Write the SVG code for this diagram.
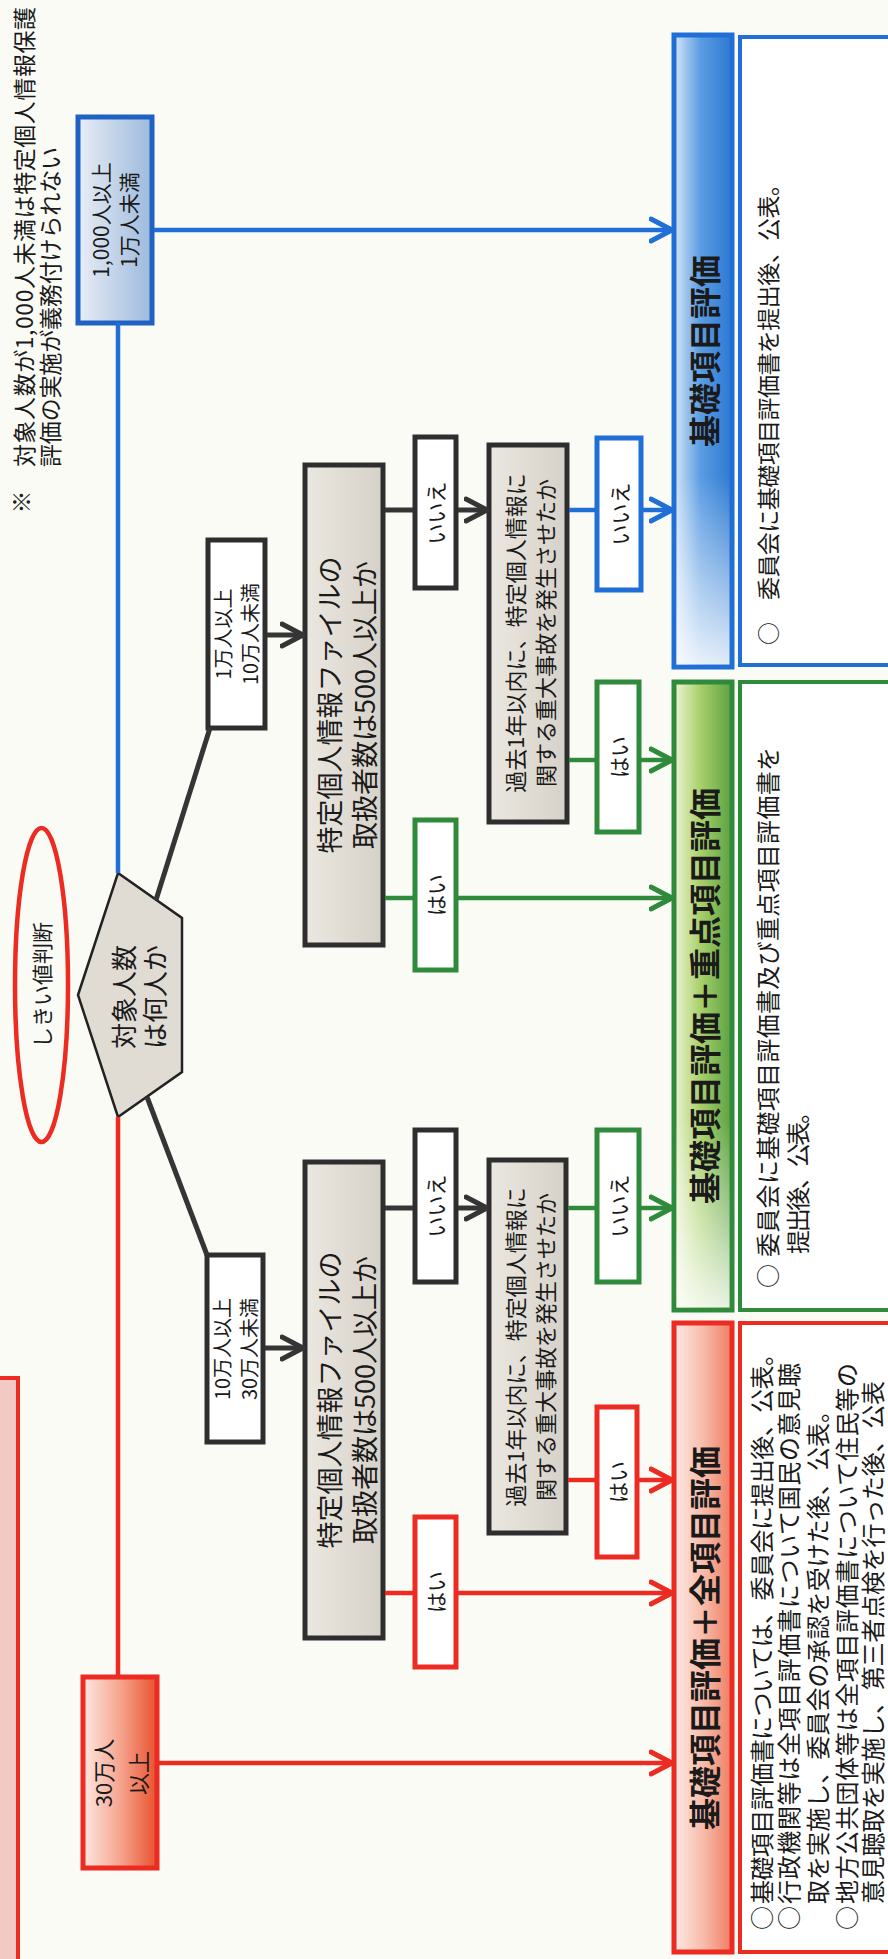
<svg xmlns="http://www.w3.org/2000/svg" width="888" height="1959" viewBox="0 0 888 1959">
<defs>
  <linearGradient id="gGray" x1="0" y1="0" x2="0" y2="1"><stop offset="0" stop-color="#ebe8e1"/><stop offset="1" stop-color="#d6d1c8"/></linearGradient>
  <linearGradient id="gBlueBox" x1="0" y1="0" x2="0" y2="1"><stop offset="0" stop-color="#e8eef6"/><stop offset="1" stop-color="#9db9dc"/></linearGradient>
  <linearGradient id="gRedBox" x1="0" y1="0" x2="0" y2="1"><stop offset="0" stop-color="#fde8e2"/><stop offset="0.5" stop-color="#f6a58f"/><stop offset="1" stop-color="#e9512f"/></linearGradient>
  <linearGradient id="gBlueHead" x1="0" y1="0" x2="0" y2="1"><stop offset="0" stop-color="#d6e7f8"/><stop offset="0.45" stop-color="#5c9de2"/><stop offset="1" stop-color="#2d78d2"/></linearGradient>
  <linearGradient id="gGreenHead" x1="0" y1="0" x2="0" y2="1"><stop offset="0" stop-color="#eef5d6"/><stop offset="0.45" stop-color="#a9d06a"/><stop offset="1" stop-color="#5aa043"/></linearGradient>
  <linearGradient id="gRedHead" x1="0" y1="0" x2="0" y2="1"><stop offset="0" stop-color="#fdeae4"/><stop offset="0.5" stop-color="#f7bcaa"/><stop offset="1" stop-color="#ef7d62"/></linearGradient>
  <linearGradient id="gWhiteL" x1="0" y1="0" x2="1" y2="0"><stop offset="0" stop-color="#ffffff" stop-opacity="0.85"/><stop offset="0.3" stop-color="#ffffff" stop-opacity="0"/></linearGradient>
  <marker id="aDark" viewBox="0 0 26 28" refX="23" refY="14" markerWidth="26" markerHeight="28" markerUnits="userSpaceOnUse" orient="auto"><path d="M2,3 L23,14 L2,25" fill="none" stroke="#353535" stroke-width="5" stroke-linejoin="round" stroke-linecap="round"/></marker>
  <marker id="aRed" viewBox="0 0 26 28" refX="23" refY="14" markerWidth="26" markerHeight="28" markerUnits="userSpaceOnUse" orient="auto"><path d="M2,3 L23,14 L2,25" fill="none" stroke="#ec2b22" stroke-width="5" stroke-linejoin="round" stroke-linecap="round"/></marker>
  <marker id="aGreen" viewBox="0 0 26 28" refX="23" refY="14" markerWidth="26" markerHeight="28" markerUnits="userSpaceOnUse" orient="auto"><path d="M2,3 L23,14 L2,25" fill="none" stroke="#2f8a3c" stroke-width="5" stroke-linejoin="round" stroke-linecap="round"/></marker>
  <marker id="aBlue" viewBox="0 0 26 28" refX="23" refY="14" markerWidth="26" markerHeight="28" markerUnits="userSpaceOnUse" orient="auto"><path d="M2,3 L23,14 L2,25" fill="none" stroke="#1f6fd6" stroke-width="5" stroke-linejoin="round" stroke-linecap="round"/></marker>
</defs>
<style>
  text { font-family: "Noto Sans CJK JP", "Noto Sans", sans-serif; fill: #1a1a1a; dominant-baseline: central; text-anchor: middle; }
  .st { text-anchor: start; }
  .hd { font-size: 32px; font-weight: bold; }
  .bx-dark { fill: #ffffff; stroke: #2e2e2e; stroke-width: 5; }
  .bx-gray { fill: url(#gGray); stroke: #2e2e2e; stroke-width: 5; }
  .bx-red { fill: #ffffff; stroke: #ec2b22; stroke-width: 5; }
  .bx-green { fill: #ffffff; stroke: #2f8a3c; stroke-width: 5; }
  .bx-blue { fill: #ffffff; stroke: #1f6fd6; stroke-width: 5; }
  .c-dark { stroke: #353535; stroke-width: 5; fill: none; }
  .c-red { stroke: #ec2b22; stroke-width: 4.5; fill: none; }
  .c-green { stroke: #2f8a3c; stroke-width: 4.5; fill: none; }
  .c-blue { stroke: #1f6fd6; stroke-width: 4.5; fill: none; }
</style>
<rect x="0" y="0" width="888" height="1959" fill="#fbfbf6"/>
<g transform="translate(0,1959) rotate(-90)">
  <g id="title-box">
    <rect x="-10" y="-40" width="591" height="58" fill="#f3c9c6" stroke="#ec2b22" stroke-width="4"/>
  </g>
  <g id="note">
    <text x="1457" y="20" font-size="23">※</text>
    <text class="st" x="1492" y="23" font-size="23" textLength="460">対象人数が1,000人未満は特定個人情報保護</text>
    <text class="st" x="1492" y="49" font-size="23" textLength="320">評価の実施が義務付けられない</text>
  </g>
  <g id="threshold-label">
    <ellipse cx="974" cy="41.5" rx="157" ry="26.5" fill="none" stroke="#ec2b22" stroke-width="4.5"/>
    <text x="974" y="41" font-size="21">しきい値判断</text>
  </g>
  <g id="q-count">
    <polygon points="964,78 1086,118 1041,182 887,182 842,118" fill="#e0dcd4" stroke="#222222" stroke-width="2.5"/>
    <text x="962" y="122" font-size="26">対象人数</text>
    <text x="962" y="153" font-size="26">は何人か</text>
  </g>
  <g id="r-1000">
    <rect x="1636" y="78" width="206" height="74" fill="url(#gBlueBox)" stroke="#1f62c4" stroke-width="5"/>
    <text x="1739" y="100" font-size="21">1,000人以上</text>
    <text x="1739" y="128" font-size="21">1万人未満</text>
  </g>
  <g id="r-30man">
    <rect x="91" y="83" width="191" height="74" fill="url(#gRedBox)" stroke="#ec2b22" stroke-width="5"/>
    <text x="186" y="102" font-size="22">30万人</text>
    <text x="186" y="137" font-size="22">以上</text>
  </g>
  <g id="r-1man">
    <rect class="bx-dark" x="1231" y="208" width="188" height="57"/>
    <text x="1325" y="222" font-size="20">1万人以上</text>
    <text x="1325" y="249" font-size="20">10万人未満</text>
  </g>
  <g id="r-10man">
    <rect class="bx-dark" x="517" y="207" width="187" height="56"/>
    <text x="610" y="221" font-size="20">10万人以上</text>
    <text x="610" y="248" font-size="20">30万人未満</text>
  </g>
  <g id="q500-right">
    <rect class="bx-gray" x="1014" y="305" width="480" height="78"/>
    <text x="1254" y="328" font-size="27">特定個人情報ファイルの</text>
    <text x="1254" y="363" font-size="27">取扱者数は500人以上か</text>
  </g>
  <g id="q500-left">
    <rect class="bx-gray" x="321" y="305" width="476" height="78"/>
    <text x="559" y="328" font-size="27">特定個人情報ファイルの</text>
    <text x="559" y="363" font-size="27">取扱者数は500人以上か</text>
  </g>
  <g id="no-right-1">
    <rect class="bx-dark" x="1371" y="415" width="151" height="41"/>
    <text x="1446" y="435" font-size="21">いいえ</text>
  </g>
  <g id="yes-right-1">
    <rect class="bx-green" x="989" y="415" width="150" height="41"/>
    <text x="1064" y="435" font-size="21">はい</text>
  </g>
  <g id="no-left-1">
    <rect class="bx-dark" x="677" y="415" width="152" height="41"/>
    <text x="753" y="435" font-size="21">いいえ</text>
  </g>
  <g id="yes-left-1">
    <rect class="bx-red" x="292" y="415" width="150" height="41"/>
    <text x="367" y="435" font-size="21">はい</text>
  </g>
  <g id="acc-right">
    <rect class="bx-gray" x="1137" y="489" width="377" height="78"/>
    <text x="1326" y="514" font-size="22">過去1年以内に、特定個人情報に</text>
    <text x="1326" y="544" font-size="22">関する重大事故を発生させたか</text>
  </g>
  <g id="acc-left">
    <rect class="bx-gray" x="426" y="489" width="373" height="77"/>
    <text x="612" y="514" font-size="22">過去1年以内に、特定個人情報に</text>
    <text x="612" y="544" font-size="22">関する重大事故を発生させたか</text>
  </g>
  <g id="no-right-2">
    <rect class="bx-blue" x="1369" y="597" width="152" height="44"/>
    <text x="1445" y="619" font-size="21">いいえ</text>
  </g>
  <g id="yes-right-2">
    <rect class="bx-green" x="1127" y="597" width="150" height="42"/>
    <text x="1202" y="618" font-size="21">はい</text>
  </g>
  <g id="no-left-2">
    <rect class="bx-green" x="677" y="597" width="152" height="42"/>
    <text x="753" y="618" font-size="21">いいえ</text>
  </g>
  <g id="yes-left-2">
    <rect class="bx-red" x="402" y="597" width="150" height="40"/>
    <text x="477" y="617" font-size="21">はい</text>
  </g>
  <g id="res-full">
    <rect x="7" y="674" width="629" height="58" fill="url(#gRedHead)" stroke="#ec2b22" stroke-width="5"/>
    <text class="hd" x="321" y="703">基礎項目評価＋全項目評価</text>
    <rect x="7" y="740" width="629" height="170" fill="#ffffff" stroke="#ec2b22" stroke-width="4"/>
    <text class="st" x="29" y="760" font-size="24">○</text>
    <text class="st" x="55" y="760" font-size="24" textLength="562">基礎項目評価書については、委員会に提出後、公表。</text>
    <text class="st" x="29" y="787" font-size="24">○</text>
    <text class="st" x="55" y="787" font-size="24" textLength="541">行政機関等は全項目評価書について国民の意見聴</text>
    <text class="st" x="55" y="816" font-size="24" textLength="505">取を実施し、委員会の承認を受けた後、公表。</text>
    <text class="st" x="29" y="845" font-size="24">○</text>
    <text class="st" x="55" y="845" font-size="24" textLength="541">地方公共団体等は全項目評価書について住民等の</text>
    <text class="st" x="55" y="871" font-size="24" textLength="523">意見聴取を実施し、第三者点検を行った後、公表</text>
  </g>
  <g id="res-focus">
    <rect x="649" y="674" width="628" height="58" fill="url(#gGreenHead)" stroke="#2f8a3c" stroke-width="5"/>
    <rect x="651.5" y="676.5" width="623" height="53" fill="url(#gWhiteL)"/>
    <text class="hd" x="963" y="703">基礎項目評価＋重点項目評価</text>
    <rect x="649" y="740" width="628" height="170" fill="#ffffff" stroke="#2f8a3c" stroke-width="4"/>
    <text class="st" x="671" y="766" font-size="24">○</text>
    <text class="st" x="702" y="766" font-size="24" textLength="510">委員会に基礎項目評価書及び重点項目評価書を</text>
    <text class="st" x="705" y="796" font-size="24" textLength="154">提出後、公表。</text>
  </g>
  <g id="res-basic">
    <rect x="1292" y="674" width="632" height="58" fill="url(#gBlueHead)" stroke="#1f6fd6" stroke-width="5"/>
    <rect x="1294.5" y="676.5" width="627" height="53" fill="url(#gWhiteL)"/>
    <text class="hd" x="1608" y="703">基礎項目評価</text>
    <rect x="1294" y="740" width="628" height="170" fill="#ffffff" stroke="#1f6fd6" stroke-width="4"/>
    <text class="st" x="1314" y="767" font-size="23">○</text>
    <text class="st" x="1359" y="767" font-size="23" textLength="427">委員会に基礎項目評価書を提出後、公表。</text>
  </g>
  <g id="connectors">
    <line class="c-blue" x1="1086" y1="118" x2="1636" y2="118"/>
    <line class="c-blue" x1="1729" y1="154" x2="1729" y2="672" marker-end="url(#aBlue)"/>
    <line class="c-red" x1="842" y1="118" x2="284" y2="118"/>
    <line class="c-red" x1="196" y1="159" x2="196" y2="672" marker-end="url(#aRed)"/>
    <line class="c-dark" x1="1059" y1="156" x2="1231" y2="210"/>
    <line class="c-dark" x1="862" y1="147" x2="704" y2="207"/>
    <line class="c-dark" x1="1324" y1="267" x2="1324" y2="303" marker-end="url(#aDark)"/>
    <line class="c-dark" x1="611" y1="265" x2="611" y2="303" marker-end="url(#aDark)"/>
    <line class="c-dark" x1="1449" y1="385" x2="1449" y2="413"/>
    <line class="c-dark" x1="1449" y1="458" x2="1449" y2="487" marker-end="url(#aDark)"/>
    <line class="c-blue" x1="1449" y1="569" x2="1449" y2="595"/>
    <line class="c-blue" x1="1449" y1="643" x2="1449" y2="672" marker-end="url(#aBlue)"/>
    <line class="c-green" x1="1199" y1="569" x2="1199" y2="595"/>
    <line class="c-green" x1="1199" y1="641" x2="1199" y2="672" marker-end="url(#aGreen)"/>
    <line class="c-green" x1="1061" y1="385" x2="1061" y2="413"/>
    <line class="c-green" x1="1061" y1="458" x2="1061" y2="672" marker-end="url(#aGreen)"/>
    <line class="c-dark" x1="751" y1="385" x2="751" y2="413"/>
    <line class="c-dark" x1="751" y1="458" x2="751" y2="487" marker-end="url(#aDark)"/>
    <line class="c-green" x1="751" y1="568" x2="751" y2="595"/>
    <line class="c-green" x1="751" y1="641" x2="751" y2="672" marker-end="url(#aGreen)"/>
    <line class="c-red" x1="479" y1="568" x2="479" y2="595"/>
    <line class="c-red" x1="479" y1="639" x2="479" y2="672" marker-end="url(#aRed)"/>
    <line class="c-red" x1="366" y1="385" x2="366" y2="413"/>
    <line class="c-red" x1="366" y1="458" x2="366" y2="672" marker-end="url(#aRed)"/>
  </g>
</g>
</svg>
